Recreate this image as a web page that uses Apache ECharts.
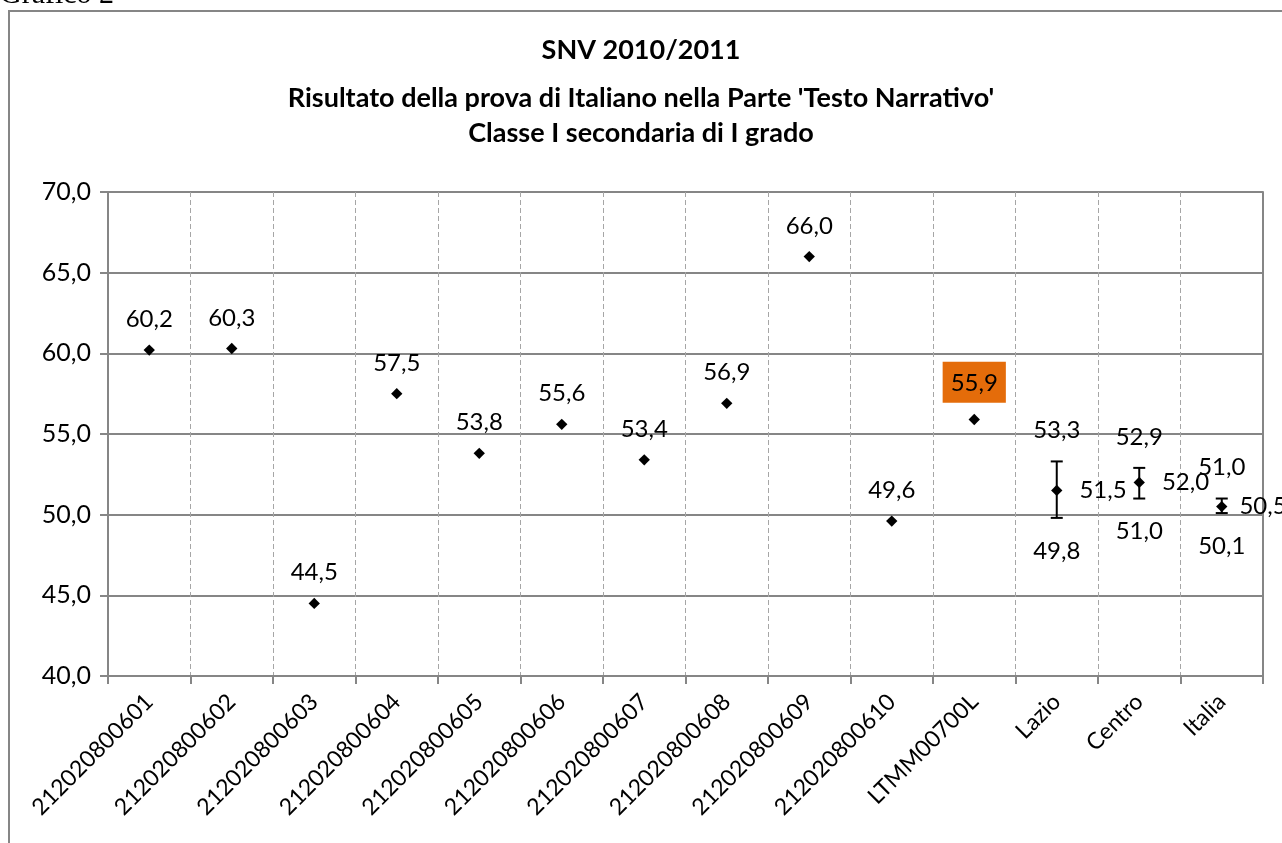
<!DOCTYPE html>
<html>
<head>
<meta charset="utf-8">
<script src="https://cdn.jsdelivr.net/npm/echarts@6/dist/echarts.min.js"></script>
<style>
  html, body { margin: 0; padding: 0; background: #fff; }
  #chart { width: 1282px; height: 843px; }
</style>
</head>
<body>
<div id="chart"></div>
<script>
// categories and values
const categories = ['212020800601', '212020800602', '212020800603', '212020800604', '212020800605',
  '212020800606', '212020800607', '212020800608', '212020800609', '212020800610',
  'LTMM00700L', 'Lazio', 'Centro', 'Italia'];
const scores = [60.2, 60.3, 44.5, 57.5, 53.8, 55.6, 53.4, 56.9, 66.0, 49.6, 55.9, 51.5, 52.0, 50.5];
// confidence interval for the reference groups
const refIndex = [11, 12, 13];
const lowerBound = [49.8, 51.0, 50.1];
const upperBound = [53.3, 52.9, 51.0];
const titleLines = ['SNV 2010/2011', "Risultato della prova di Italiano nella Parte 'Testo Narrativo'", 'Classe I secondaria di I grado'];

const FONT = 'Lato';
const LBL = 24;
const fmt = v => v.toFixed(1).replace('.', ',');

const chart = echarts.init(document.getElementById('chart'));

const pointData = scores.map((v, i) => {
  const item = { value: [i, v] };
  if (refIndex.includes(i)) {
    item.label = { position: 'right', distance: categories[i] === 'Italia' ? 12 : 17 };
  }
  if (categories[i] === 'LTMM00700L') {
    item.label = { backgroundColor: '#E46C0A', padding: [9, 8, 8, 8], distance: 11 };
  }
  return item;
});

const errData = refIndex.map((c, k) => [c, lowerBound[k], upperBound[k]]);

const option = {
  animation: false,
  textStyle: { fontFamily: FONT },
  title: titleLines.map((t, i) => ({
    text: t,
    left: 'center',
    top: [32, 80, 115][i],
    textStyle: { fontFamily: FONT, fontWeight: 'bold', fontSize: 27, color: '#000' }
  })),
  graphic: [
    { type: 'rect', shape: { x: 9, y: 11, width: 1290, height: 900 },
      style: { fill: null, stroke: '#868686', lineWidth: 2 } },
    { type: 'text', left: 0, top: -20,
      style: { text: 'Grafico 2', font: '30px "Liberation Serif"', fill: '#000' } }
  ],
  grid: { left: 108, right: 19, top: 192, bottom: 167, containLabel: false },
  xAxis: {
    type: 'category',
    data: categories,
    boundaryGap: true,
    axisLine: { lineStyle: { color: '#868686', width: 2 } },
    axisTick: { show: true, length: 8, lineStyle: { color: '#868686', width: 2 } },
    splitLine: { show: true, lineStyle: { color: '#a6a6a6', type: [5, 3], width: 1 } },
    axisLabel: { rotate: 45, color: '#000', fontSize: 23, fontFamily: FONT, margin: 22, interval: 0 }
  },
  yAxis: [{
    type: 'value',
    min: 40, max: 70, interval: 5,
    axisLine: { show: true, lineStyle: { color: '#868686', width: 2 } },
    axisTick: { show: true, length: 8, lineStyle: { color: '#868686', width: 2 } },
    splitLine: { show: true, lineStyle: { color: '#868686', width: 2 } },
    axisLabel: { color: '#000', fontSize: 25, fontFamily: FONT, margin: 17, formatter: v => fmt(v) }
  }, {
    type: 'value', position: 'right',
    min: 40, max: 70, interval: 5,
    axisLine: { show: true, lineStyle: { color: '#868686', width: 2 } },
    axisTick: { show: false }, axisLabel: { show: false }, splitLine: { show: false }
  }],
  series: [{
    type: 'custom',
    data: errData,
    z: 3,
    renderItem: (params, api) => {
      const low = api.coord([api.value(0), api.value(1)]);
      const high = api.coord([api.value(0), api.value(2)]);
      const cap = 6;
      const ls = { stroke: '#000', lineWidth: 2 };
      const lbl = { fill: '#000', font: LBL + 'px ' + FONT, textAlign: 'center', textVerticalAlign: 'middle' };
      return {
        type: 'group',
        children: [
          { type: 'line', shape: { x1: low[0], y1: low[1], x2: high[0], y2: high[1] }, style: ls },
          { type: 'line', shape: { x1: low[0] - cap, y1: low[1], x2: low[0] + cap, y2: low[1] }, style: ls },
          { type: 'line', shape: { x1: high[0] - cap, y1: high[1], x2: high[0] + cap, y2: high[1] }, style: ls },
          { type: 'text', x: high[0], y: high[1] - 31, style: Object.assign({ text: fmt(api.value(2)) }, lbl) },
          { type: 'text', x: low[0], y: low[1] + 33, style: Object.assign({ text: fmt(api.value(1)) }, lbl) }
        ]
      };
    }
  }, {
    type: 'scatter',
    data: pointData,
    z: 4,
    symbol: 'rect',
    symbolSize: 8,
    symbolRotate: 45,
    itemStyle: { color: '#000', opacity: 1 },
    label: {
      show: true, position: 'top', distance: 13,
      color: '#000', fontSize: LBL, fontFamily: FONT,
      formatter: p => fmt(p.value[1])
    }
  }]
};

chart.setOption(option);
</script>
</body>
</html>
